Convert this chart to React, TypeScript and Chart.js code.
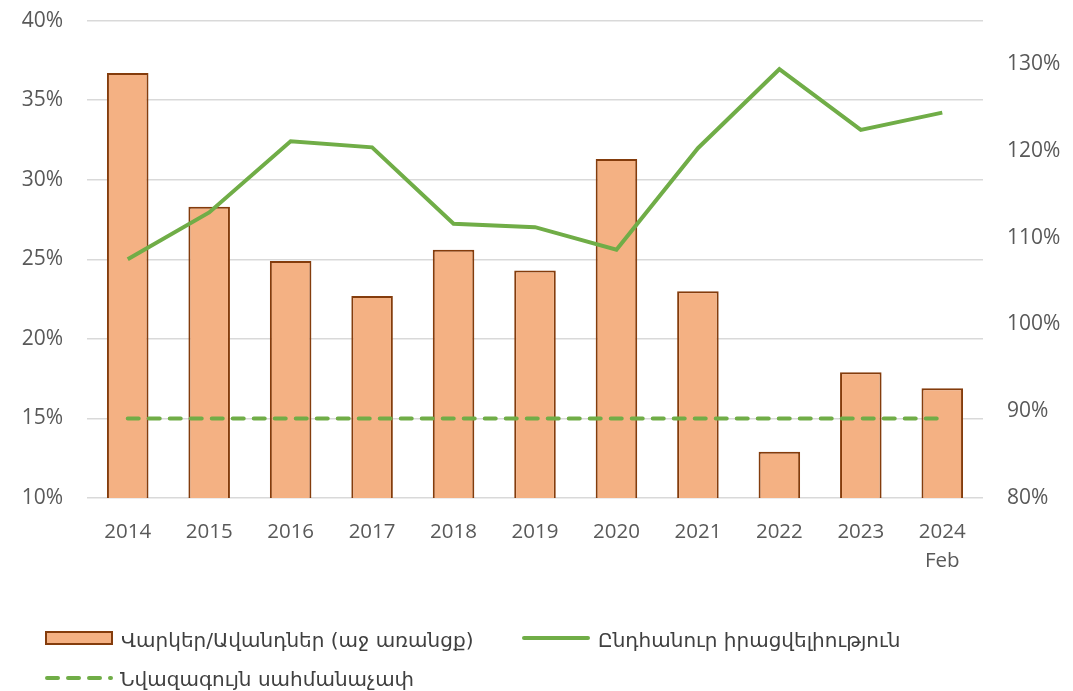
import React, { useEffect, useRef } from "react";
import { Chart, registerables } from "chart.js";

Chart.register(...registerables);

const categories: (string | string[])[] = ["2014", "2015", "2016", "2017", "2018", "2019", "2020", "2021", "2022", "2023", ["2024", "Feb"]];
const loansDeposits = [36.7, 28.3, 24.9, 22.7, 25.6, 24.3, 31.3, 23.0, 12.9, 17.9, 16.9];
const totalLiquidity = [107.5, 112.9, 121.1, 120.4, 111.6, 111.2, 108.6, 120.3, 129.4, 122.4, 124.4];
const minimumLimit = [15, 15, 15, 15, 15, 15, 15, 15, 15, 15, 15];
const seriesNames = ["Վարկեր/Ավանդներ (աջ առանցք)", "Ընդհանուր իրացվելիություն", "Նվազագույն սահմանաչափ"];
const leftTicks = [10, 15, 20, 25, 30, 35, 40];
const rightTicks = [80, 90, 100, 110, 120, 130];

const BAR_FILL = "#F4B183";
const BAR_BORDER = "#843C0C";
const GREEN = "#70AD47";
const TICK_FONT = "'Open Sans', 'DejaVu Sans', sans-serif";
const LEGEND_FONT = "'DejaVu Sans', sans-serif";

export default function App() {
  const ref = useRef<HTMLCanvasElement | null>(null);

  useEffect(() => {
    if (!ref.current) return;
    const chart = new Chart(ref.current, {
      type: "bar",
      data: {
        labels: categories,
        datasets: [
          {
            type: "bar",
            label: seriesNames[0],
            data: loansDeposits,
            backgroundColor: BAR_FILL,
            borderColor: BAR_BORDER,
            borderWidth: 2,
            barPercentage: 0.51,
            categoryPercentage: 1,
            yAxisID: "yL",
            order: 3,
          },
          {
            type: "line",
            label: seriesNames[1],
            data: totalLiquidity,
            borderColor: GREEN,
            backgroundColor: GREEN,
            borderWidth: 4,
            pointRadius: 0,
            tension: 0,
            borderJoinStyle: "miter",
            yAxisID: "yR",
            order: 1,
          },
          {
            type: "line",
            label: seriesNames[2],
            data: minimumLimit,
            borderColor: GREEN,
            backgroundColor: GREEN,
            borderWidth: 4,
            borderDash: [11, 10],
            borderCapStyle: "round",
            pointRadius: 0,
            yAxisID: "yL",
            order: 2,
          },
        ],
      },
      options: {
        responsive: true,
        maintainAspectRatio: false,
        animation: false,
        layout: { padding: { top: 5, left: 0, right: 0, bottom: 0 } },
        plugins: { legend: { display: false }, tooltip: { enabled: false } },
        scales: {
          x: {
            grid: { display: false, drawTicks: false },
            border: { display: false },
            ticks: {
              color: "#595959",
              padding: 20,
              maxRotation: 0,
              font: { family: TICK_FONT, size: 20.5, lineHeight: 1.4 },
            },
            afterFit: (s: any) => {
              s.height = 193;
            },
          },
          yL: {
            position: "left",
            min: 10,
            max: 40,
            afterBuildTicks: (s: any) => {
              s.ticks = leftTicks.map((v) => ({ value: v }));
            },
            grid: { color: "#D9D9D9", lineWidth: 1.5, drawTicks: false },
            border: { display: false },
            ticks: {
              color: "#595959",
              padding: 24,
              font: { family: TICK_FONT, size: 21 },
              callback: (v: any) => v + "%",
            },
            afterFit: (s: any) => {
              s.width = 87;
            },
          },
          yR: {
            position: "right",
            min: 80,
            max: 135,
            afterBuildTicks: (s: any) => {
              s.ticks = rightTicks.map((v) => ({ value: v }));
            },
            grid: { display: false, drawTicks: false },
            border: { display: false },
            ticks: {
              color: "#595959",
              padding: 24,
              font: { family: TICK_FONT, size: 21 },
              callback: (v: any) => v + "%",
            },
            afterFit: (s: any) => {
              s.width = 90;
            },
          },
        },
      },
    });
    return () => chart.destroy();
  }, []);

  const textStyle: React.CSSProperties = {
    position: "absolute",
    fontFamily: LEGEND_FONT,
    fontSize: 20,
    color: "#404040",
    lineHeight: "22px",
    whiteSpace: "nowrap",
  };

  return (
    <div style={{ position: "absolute", left: 0, top: 0, width: 1073, height: 691, background: "#fff", overflow: "hidden" }}>
      <div style={{ position: "absolute", left: 0, top: -16, width: 1073, height: 707 }}>
        <canvas ref={ref} />
      </div>
      <svg style={{ position: "absolute", left: 0, top: 0 }} width={1073} height={691}>
        <rect x={46} y={632} width={66} height={12} fill={BAR_FILL} stroke={BAR_BORDER} strokeWidth={2} />
        <line x1={524} y1={638} x2={588} y2={638} stroke={GREEN} strokeWidth={4} strokeLinecap="round" />
        <line x1={47} y1={678} x2={111} y2={678} stroke={GREEN} strokeWidth={4} strokeLinecap="round" strokeDasharray="11 10" />
      </svg>
      <div style={{ ...textStyle, left: 121, top: 629 }}>{seriesNames[0]}</div>
      <div style={{ ...textStyle, left: 598, top: 629 }}>{seriesNames[1]}</div>
      <div style={{ ...textStyle, left: 120, top: 668 }}>{seriesNames[2]}</div>
    </div>
  );
}
